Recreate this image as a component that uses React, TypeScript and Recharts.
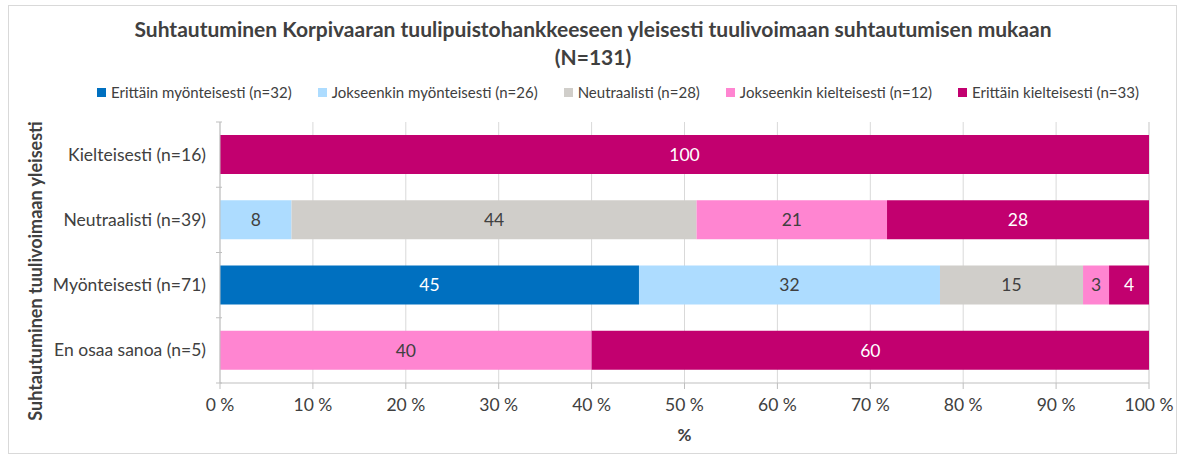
import React from 'react';
import { BarChart, Bar, XAxis, YAxis, CartesianGrid, LabelList } from 'recharts';

const categories = ['Kielteisesti (n=16)', 'Neutraalisti (n=39)', 'Myönteisesti (n=71)', 'En osaa sanoa (n=5)'];

// percentages per category
const erittainMyonteisesti = [0, 0, 45.1, 0];
const jokseenkinMyonteisesti = [0, 7.7, 32.4, 0];
const neutraalisti = [0, 43.6, 15.4, 0];
const jokseenkinKielteisesti = [0, 20.5, 2.8, 40];
const erittainKielteisesti = [100, 28.2, 4.3, 60];

const xTicks = [0, 10, 20, 30, 40, 50, 60, 70, 80, 90, 100];

const series = [
  { key: 'em', name: 'Erittäin myönteisesti (n=32)', values: erittainMyonteisesti, color: '#0070C0', text: '#ffffff' },
  { key: 'jm', name: 'Jokseenkin myönteisesti (n=26)', values: jokseenkinMyonteisesti, color: '#ADDCFF', text: '#404040' },
  { key: 'ne', name: 'Neutraalisti (n=28)', values: neutraalisti, color: '#D0CECA', text: '#404040' },
  { key: 'jk', name: 'Jokseenkin kielteisesti (n=12)', values: jokseenkinKielteisesti, color: '#FF85D1', text: '#404040' },
  { key: 'ek', name: 'Erittäin kielteisesti (n=33)', values: erittainKielteisesti, color: '#C2006F', text: '#ffffff' },
];

const data = categories.map((name, i) => {
  const row: Record<string, string | number> = { name };
  series.forEach(s => { row[s.key] = s.values[i]; });
  return row;
});

const FONT = 'Lato, "Open Sans", sans-serif';
const W = 1186;
const H = 459;
const TOP = 122;
const BOTTOM = 76;
const BAND = (H - TOP - BOTTOM) / categories.length;

const YTick = (props: any) => {
  const { x, y, payload, index } = props;
  return (
    <g>
      <line x1={x + 4} x2={x + 10} y1={y - BAND / 2} y2={y - BAND / 2} stroke="#bfbfbf" />
      {index === categories.length - 1 && (
        <line x1={x + 4} x2={x + 10} y1={y + BAND / 2} y2={y + BAND / 2} stroke="#bfbfbf" />
      )}
      <text x={x - 6} y={y} dy={6} textAnchor="end" fontSize={17.5} fill="#404040" fontFamily={FONT}>
        {payload.value}
      </text>
    </g>
  );
};

export default function App() {
  return (
    <div style={{ position: 'absolute', left: 0, top: 0, width: W, height: H, background: '#fff', fontFamily: FONT }}>
      <div style={{ position: 'absolute', left: 8, top: 5, width: 1169, height: 449, border: '1px solid #d9d9d9', boxSizing: 'border-box' }} />
      <div style={{ position: 'absolute', left: 0, top: 15, width: W, textAlign: 'center', fontWeight: 700, fontSize: 21, lineHeight: '28px', color: '#404040' }}>
        Suhtautuminen Korpivaaran tuulipuistohankkeeseen yleisesti tuulivoimaan suhtautumisen mukaan
        <br />
        (N=131)
      </div>
      <div style={{ position: 'absolute', left: 97, top: 83, width: 1042, display: 'flex', justifyContent: 'space-between', fontSize: 15, color: '#404040' }}>
        {series.map(s => (
          <div key={s.key} style={{ display: 'flex', alignItems: 'center' }}>
            <span style={{ width: 9, height: 9, background: s.color, marginRight: 5, display: 'inline-block' }} />
            <span>{s.name}</span>
          </div>
        ))}
      </div>
      <div style={{ position: 'absolute', left: 35, top: 271, width: 0, height: 0 }}>
        <div style={{ position: 'absolute', transform: 'translate(-50%, -50%) rotate(-90deg)', whiteSpace: 'nowrap', fontWeight: 700, fontSize: 18, color: '#404040' }}>
          Suhtautuminen tuulivoimaan yleisesti
        </div>
      </div>
      <div style={{ position: 'absolute', left: 0, top: 0 }}>
        <BarChart width={W} height={H} data={data} layout="vertical" barCategoryGap="20%"
          margin={{ top: TOP, right: 37, bottom: 0, left: 0 }}>
          <CartesianGrid horizontal={false} stroke="#d9d9d9" />
          <XAxis type="number" domain={[0, 100]} ticks={xTicks} height={BOTTOM}
            tickFormatter={(v: number) => `${v} %`} stroke="#bfbfbf" tickSize={6} tickMargin={10}
            tick={{ fill: '#404040', fontSize: 17.5, fontFamily: FONT }}
            label={{ value: '%', position: 'insideTop', offset: 46, fill: '#404040', fontSize: 17, fontWeight: 700, fontFamily: FONT }} />
          <YAxis type="category" dataKey="name" width={220} stroke="#bfbfbf" tickLine={false} tick={<YTick />} interval={0} />
          {series.map(s => (
            <Bar key={s.key} dataKey={s.key} name={s.name} stackId="a" fill={s.color} isAnimationActive={false}>
              <LabelList dataKey={s.key} position="center" fill={s.text} fontSize={17.5} fontFamily={FONT}
                formatter={(v: any) => (v ? Math.round(v) : '')} />
            </Bar>
          ))}
        </BarChart>
      </div>
    </div>
  );
}
